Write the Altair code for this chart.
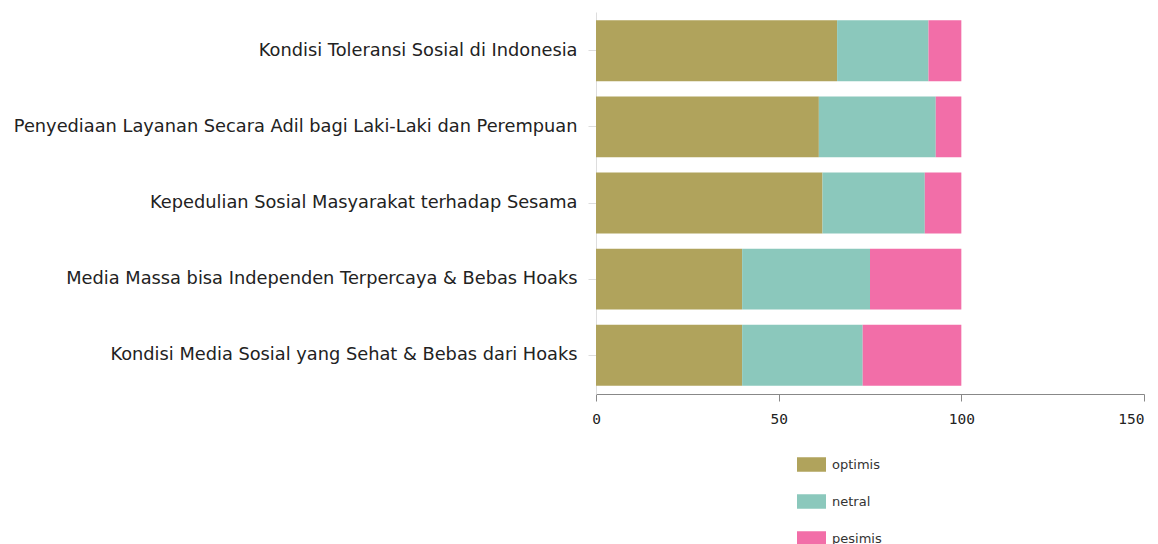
import altair as alt
import pandas as pd

categories = [
    "Kondisi Toleransi Sosial di Indonesia",
    "Penyediaan Layanan Secara Adil bagi Laki-Laki dan Perempuan",
    "Kepedulian Sosial Masyarakat terhadap Sesama",
    "Media Massa bisa Independen Terpercaya & Bebas Hoaks",
    "Kondisi Media Sosial yang Sehat & Bebas dari Hoaks",
]
series = ["optimis", "netral", "pesimis"]
optimis = [66, 61, 62, 40, 40]
netral = [25, 32, 28, 35, 33]
pesimis = [9, 7, 10, 25, 27]
colors = ["#B0A35C", "#8BC8BC", "#F26EA8"]

rows = []
for i, c in enumerate(categories):
    for j, (s, vals) in enumerate(zip(series, [optimis, netral, pesimis])):
        rows.append({"kategori": c, "seri": s, "nilai": vals[i], "urut": j})
df = pd.DataFrame(rows)

chart = (
    alt.Chart(df)
    .mark_bar()
    .encode(
        y=alt.Y(
            "kategori:N",
            sort=categories,
            title=None,
            scale=alt.Scale(paddingInner=0.2, paddingOuter=0.11),
            axis=alt.Axis(
                labelFont="DejaVu Sans",
                labelFontSize=17.8,
                labelColor="#222222",
                labelPadding=11,
                labelLimit=700,
                tickSize=8,
                tickColor="#dddddd",
                domainColor="#dddddd",
                grid=False,
            ),
        ),
        x=alt.X(
            "nilai:Q",
            stack="zero",
            title=None,
            scale=alt.Scale(domain=[0, 150], nice=False),
            axis=alt.Axis(
                values=[0, 50, 100, 150],
                labelFont="DejaVu Sans Mono",
                labelFontSize=14.5,
                labelColor="#222222",
                labelPadding=11,
                labelAlign=alt.ExprRef(expr="datum.value == 150 ? 'right' : 'center'"),
                tickSize=7,
                tickColor="#888888",
                domainColor="#888888",
                grid=False,
                labelFlush=False,
            ),
        ),
        color=alt.Color(
            "seri:N",
            sort=series,
            scale=alt.Scale(domain=series, range=colors),
            legend=alt.Legend(
                title=None,
                orient="none",
                legendX=201,
                legendY=438,
                direction="vertical",
                symbolType="M-1,-0.5H1V0.5H-1Z",
                symbolSize=841,
                symbolStrokeWidth=0,
                rowPadding=15,
                labelOffset=6,
                labelFont="DejaVu Sans",
                labelFontSize=13,
                labelColor="#333333",
            ),
        ),
        order=alt.Order("urut:Q"),
    )
    .properties(
        width=548,
        height=382,
        autosize=alt.AutoSizeParams(type="none"),
        padding={"left": 588, "top": 4, "right": 6, "bottom": 150},
    )
    .configure_view(stroke=None)
)

chart.save("out.html", embed_options={"renderer": "svg", "actions": False})
